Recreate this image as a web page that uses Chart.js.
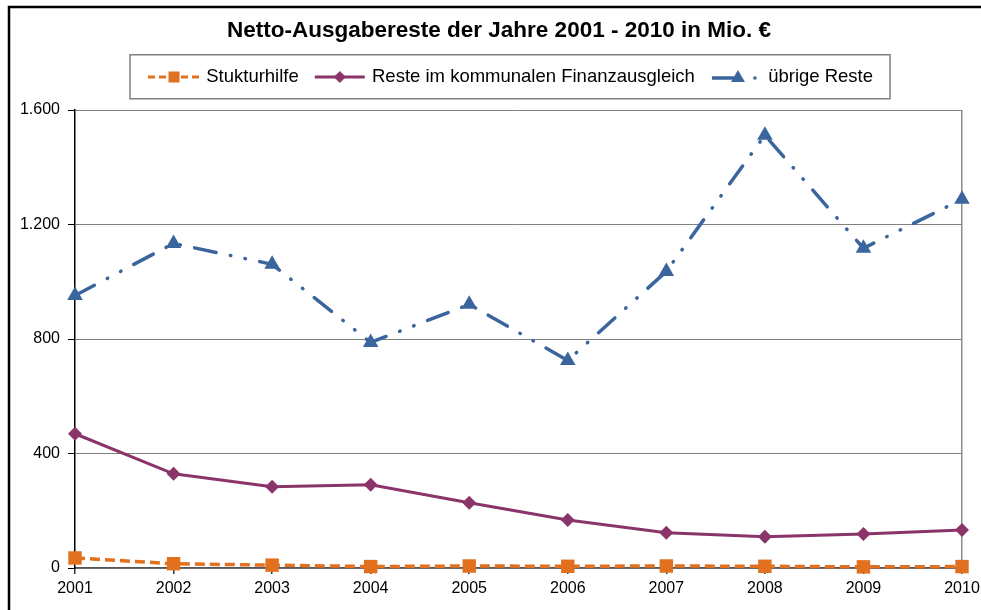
<!DOCTYPE html>
<html>
<head>
<meta charset="utf-8">
<script src="https://cdn.jsdelivr.net/npm/chart.js@4.4.1/dist/chart.umd.min.js"></script>
<style>
	html, body { margin: 0; padding: 0; background: #fff; }
	#wrap { width: 981px; height: 610px; }
</style>
</head>
<body>
<div id="wrap"><canvas id="chart"></canvas></div>
<script>
'use strict';

var years = ['2001', '2002', '2003', '2004', '2005', '2006', '2007', '2008', '2009', '2010'];
var strukturhilfe = [35, 15, 10, 5, 7, 6, 7, 6, 4, 5];
var resteKfa = [469, 329, 284, 291, 228, 168, 123, 109, 119, 133];
var uebrigeReste = [952, 1134, 1061, 788, 921, 725, 1036, 1512, 1117, 1288];
var seriesNames = ['Stukturhilfe', 'Reste im kommunalen Finanzausgleich', '\u00fcbrige Reste'];

var orange = '#E2711F';
var purple = '#8A3469';
var blue = '#3A659D';
var fontFamily = 'Liberation Sans, Arial, sans-serif';
var legendShift = 13;

function formatDe(v) {
	return String(v).replace(/\B(?=(\d{3})+(?!\d))/g, '.');
}

function makeIcon(kind) {
	var c = document.createElement('canvas');
	c.width = 52;
	c.height = 18;
	var g = c.getContext('2d');
	var cy = 9;
	if (kind === 0) {
		g.strokeStyle = orange;
		g.lineWidth = 3;
		g.setLineDash([7, 4]);
		g.beginPath(); g.moveTo(0, cy); g.lineTo(52, cy); g.stroke();
		g.fillStyle = orange;
		g.fillRect(26 - 5.5, cy - 5.5, 11, 11);
	} else if (kind === 1) {
		g.strokeStyle = purple;
		g.lineWidth = 3;
		g.beginPath(); g.moveTo(1, cy); g.lineTo(51, cy); g.stroke();
		g.fillStyle = purple;
		g.beginPath();
		g.moveTo(26, cy - 6); g.lineTo(32, cy); g.lineTo(26, cy + 6); g.lineTo(20, cy);
		g.closePath(); g.fill();
	} else {
		g.strokeStyle = blue;
		g.lineWidth = 3.5;
		g.beginPath(); g.moveTo(2, cy + 1); g.lineTo(24, cy + 1); g.stroke();
		g.fillStyle = blue;
		g.beginPath();
		g.moveTo(28, cy - 7); g.lineTo(35, cy + 5); g.lineTo(21, cy + 5);
		g.closePath(); g.fill();
		g.beginPath(); g.arc(45, cy + 1, 1.8, 0, Math.PI * 2); g.fill();
	}
	return c;
}

var icons = [makeIcon(0), makeIcon(1), makeIcon(2)];

var framePlugin = {
	id: 'frame',
	afterLayout: function (chart) {
		// legend sits a bit right of the title in the original
		var lg = chart.legend;
		lg.left += legendShift;
		lg.right += legendShift;
		lg.legendHitBoxes.forEach(function (h) { h.left += legendShift; });
	},
	afterDraw: function (chart) {
		var ctx = chart.ctx;
		ctx.save();
		// outer black frame, only top and left are in view
		ctx.strokeStyle = '#000';
		ctx.lineWidth = 2.5;
		ctx.beginPath();
		ctx.moveTo(9, 610);
		ctx.lineTo(9, 7);
		ctx.lineTo(981, 7);
		ctx.stroke();
		// box round the legend
		var lg = chart.legend;
		var hb = lg.legendHitBoxes;
		if (hb && hb.length) {
			var last = hb[hb.length - 1];
			var l = hb[0].left - 21;
			var r = last.left + last.width + 17;
			ctx.strokeStyle = '#808080';
			ctx.lineWidth = 1.5;
			ctx.strokeRect(l, lg.top + 5, r - l, 44);
		}
		ctx.restore();
	}
};

var data = {
	labels: years,
	datasets: [
		{
			label: seriesNames[0],
			data: strukturhilfe,
			borderColor: orange,
			backgroundColor: orange,
			borderWidth: 3.5,
			borderDash: [10, 5],
			pointStyle: 'rect',
			pointRadius: 9.5,
			pointBorderWidth: 0,
			clip: false
		},
		{
			label: seriesNames[1],
			data: resteKfa,
			borderColor: purple,
			backgroundColor: purple,
			borderWidth: 3,
			pointStyle: 'rectRot',
			pointRadius: 7,
			pointBorderWidth: 0,
			clip: false
		},
		{
			label: seriesNames[2],
			data: uebrigeReste,
			borderColor: blue,
			backgroundColor: blue,
			borderWidth: 3.5,
			borderCapStyle: 'round',
			borderDash: [22, 14.5, 0.5, 14.5, 0.5, 14.5],
			pointStyle: 'triangle',
			pointRadius: 9,
			pointBorderWidth: 0,
			clip: false
		}
	]
};

var config = {
	type: 'line',
	data: data,
	plugins: [framePlugin],
	options: {
		responsive: false,
		animation: false,
		layout: { padding: { left: 36, right: 19, top: 0, bottom: 0 } },
		plugins: {
			tooltip: { enabled: false },
			title: {
				display: true,
				text: 'Netto-Ausgabereste der Jahre 2001 - 2010 in Mio. \u20ac',
				color: '#000',
				font: { family: fontFamily, size: 22.5, weight: 'bold' },
				padding: { top: 17, bottom: 5.75 }
			},
			// empty subtitle used only as a spacer between legend and plot
			subtitle: {
				display: true,
				text: '',
				weight: 500,
				font: { size: 1, lineHeight: 1 },
				padding: { top: 0, bottom: 12.75 }
			},
			legend: {
				display: true,
				position: 'top',
				labels: {
					color: '#000',
					font: { family: fontFamily, size: 18.5 },
					padding: 18,
					usePointStyle: true,
					pointStyleWidth: 46,
					generateLabels: function (chart) {
						return chart.data.datasets.map(function (ds, i) {
							return {
								text: ds.label,
								pointStyle: icons[i],
								fillStyle: ds.borderColor,
								strokeStyle: ds.borderColor,
								lineWidth: 0,
								datasetIndex: i,
								hidden: false
							};
						});
					}
				}
			}
		},
		scales: {
			x: {
				offset: false,
				afterFit: function (scale) {
					scale.height = 42;
					// "2010" may run a little past the plot edge, as in the original
					scale.paddingRight = 0;
					scale.paddingLeft = 0;
				},
				grid: {
					display: true,
					color: function (ctx) { return ctx.index === years.length - 1 ? '#8c8c8c' : 'rgba(0,0,0,0)'; },
					lineWidth: 1.5,
					tickColor: '#333',
					tickLength: 6
				},
				border: { display: true, color: '#555', width: 1.5 },
				ticks: {
					color: '#000',
					padding: 5,
					maxRotation: 0,
					autoSkip: false,
					font: { family: fontFamily, size: 16 }
				}
			},
			y: {
				min: 0,
				max: 1600,
				afterFit: function (scale) {
					scale.width = 39;
					// labels stick out left of the narrow axis box, so no clipping
					scale._computeLabelArea = function () { return undefined; };
				},
				grid: {
					color: '#808080',
					lineWidth: 1,
					tickColor: '#000',
					tickLength: 7
				},
				border: { display: true, color: '#000', width: 1.5 },
				ticks: {
					stepSize: 400,
					color: '#000',
					padding: 8,
					font: { family: fontFamily, size: 16 },
					callback: function (v) { return formatDe(v); }
				}
			}
		}
	}
};

var canvas = document.getElementById('chart');
canvas.width = 981;
canvas.height = 610;
canvas.style.width = '981px';
canvas.style.height = '610px';
var chart = new Chart(canvas, config);
</script>
</body>
</html>
